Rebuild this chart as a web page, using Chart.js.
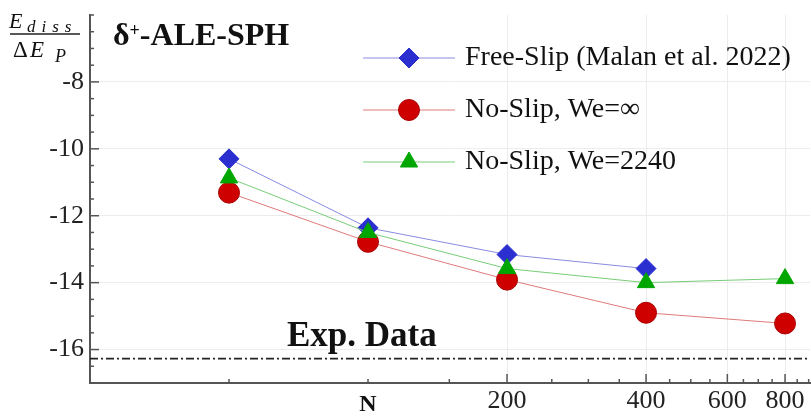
<!DOCTYPE html>
<html>
<head>
<meta charset="utf-8">
<script src="https://cdn.jsdelivr.net/npm/chart.js@4"></script>
<style>
  html, body { margin: 0; padding: 0; background: #fff; }
</style>
</head>
<body>
<canvas id="myChart" width="811" height="417"></canvas>
<script>
// particle counts and dissipated energy ratio per run
const nValues = [50, 100, 200, 400, 800];
const freeSlip = [-10.3, -12.36, -13.16, -13.58];
const noSlipInf = [-11.31, -12.78, -13.91, -14.9, -15.22];
const noSlip2240 = [-10.87, -12.5, -13.58, -14.0, -13.88];
const expData = -16.27;

const seriesNames = ['Free-Slip (Malan et al. 2022)', 'No-Slip, We=\u221E', 'No-Slip, We=2240'];
const xTickLabels = [200, 400, 600, 800];
const yTickLabels = [-8, -10, -12, -14, -16];
const xMin = 25, xMax = 906;
const yMin = -17, yMax = -6;

const serif = "'Liberation Serif', 'Times New Roman', serif";

const toPoints = (ys) => ys.map((y, i) => ({ x: nValues[i], y: y }));

const data = {
  datasets: [
    {
      label: seriesNames[0],
      data: toPoints(freeSlip),
      borderColor: '#8a8ae0',
      backgroundColor: '#2b2fd0',
      pointBorderColor: '#2b2fd0',
      pointStyle: 'rectRot',
      pointRadius: 10,
      borderWidth: 1,
      order: 3,
    },
    {
      label: seriesNames[1],
      data: toPoints(noSlipInf),
      borderColor: '#e07a7a',
      backgroundColor: '#cf0000',
      pointBorderColor: '#a80000',
      pointStyle: 'circle',
      pointRadius: 10.5,
      borderWidth: 1,
      order: 2,
    },
    {
      label: seriesNames[2],
      data: toPoints(noSlip2240),
      borderColor: '#78cc78',
      backgroundColor: '#00a600',
      pointBorderColor: '#00a600',
      pointStyle: 'triangle',
      pointRadius: 10,
      borderWidth: 1,
      order: 1,
    },
    {
      label: 'Exp. Data',
      data: [{ x: xMin, y: expData }, { x: xMax, y: expData }],
      borderColor: '#222',
      borderWidth: 1.8,
      borderDash: [8, 3, 2, 3],
      pointRadius: 0,
      order: 4,
    },
  ],
};

// inward tick marks, legend and the text annotations
const decorations = {
  id: 'decorations',
  afterDraw(chart) {
    const { ctx, chartArea, scales } = chart;
    const x = scales.x, y = scales.y;
    ctx.save();

    const seg = (x1, y1, x2, y2) => {
      ctx.beginPath();
      ctx.moveTo(x1, y1);
      ctx.lineTo(x2, y2);
      ctx.stroke();
    };

    ctx.strokeStyle = '#555';
    ctx.lineWidth = 1.5;
    y.ticks.forEach((t) => {
      const py = y.getPixelForValue(t.value);
      seg(chartArea.left, py, chartArea.left + (yTickLabels.includes(t.value) ? 9 : 4), py);
    });
    x.ticks.forEach((t) => {
      const px = x.getPixelForValue(t.value);
      seg(px, chartArea.bottom, px, chartArea.bottom - (xTickLabels.includes(t.value) ? 9 : 4));
    });

    // legend rows
    const rows = [58, 110, 162];
    for (let i = 0; i < 3; i++) {
      const ds = chart.data.datasets[i];
      const ry = rows[i];
      ctx.strokeStyle = ds.borderColor;
      ctx.lineWidth = 1;
      seg(363, ry, 455, ry);
      ctx.fillStyle = ds.backgroundColor;
      ctx.strokeStyle = ds.pointBorderColor;
      Chart.helpers.drawPoint(ctx, { pointStyle: ds.pointStyle, radius: ds.pointRadius, rotation: 0, borderWidth: 1 }, 409, ry);
      ctx.fillStyle = '#111';
      ctx.font = '28px ' + serif;
      ctx.textBaseline = 'alphabetic';
      ctx.textAlign = 'left';
      ctx.fillText(ds.label, 465, ry + 7);
    }

    // title
    ctx.fillStyle = '#111';
    ctx.font = 'bold 32px ' + serif;
    ctx.fillText('\u03B4', 113, 45);
    let tx = 113 + ctx.measureText('\u03B4').width;
    ctx.font = 'bold 18px ' + serif;
    ctx.fillText('+', tx, 36);
    tx += ctx.measureText('+').width;
    ctx.font = 'bold 32px ' + serif;
    ctx.fillText('-ALE-SPH', tx, 45);

    // Exp. Data label
    ctx.font = 'bold 35px ' + serif;
    ctx.fillText('Exp. Data', 287, 346);

    // N label under the axis
    ctx.font = 'bold 24px ' + serif;
    ctx.textAlign = 'center';
    ctx.fillText('N', x.getPixelForValue(100), 411);

    // y axis quantity as a fraction
    ctx.textAlign = 'left';
    ctx.font = 'italic 22px ' + serif;
    ctx.fillText('E', 9, 28);
    ctx.font = 'italic 17px ' + serif;
    let sx = 27;
    for (const ch of 'diss') {
      ctx.fillText(ch, sx, 32);
      sx += ctx.measureText(ch).width + 6;
    }
    ctx.strokeStyle = '#222';
    ctx.lineWidth = 1.4;
    seg(10, 34, 80, 34);
    ctx.font = '23px ' + serif;
    ctx.fillText('\u0394', 13, 57);
    ctx.font = 'italic 23px ' + serif;
    ctx.fillText('E', 30, 57);
    ctx.font = 'italic 18px ' + serif;
    ctx.fillText('P', 55, 62);

    ctx.restore();
  },
};

const config = {
  type: 'line',
  data: data,
  options: {
    responsive: false,
    animation: false,
    layout: { autoPadding: false, padding: { top: 15, right: 1, left: 0, bottom: 0 } },
    plugins: {
      legend: { display: false },
      tooltip: { enabled: false },
    },
    scales: {
      x: {
        type: 'logarithmic',
        min: xMin,
        max: xMax,
        afterBuildTicks: (scale) => {
          const t = [{ value: 50 }];
          for (let v = 100; v <= 900; v += 50) t.push({ value: v });
          scale.ticks = t;
        },
        afterFit: (scale) => {
          scale.height = 34;
          scale.paddingLeft = 0;
          scale.paddingRight = 0;
        },
        grid: {
          drawTicks: false,
          color: (c) => (c.tick && xTickLabels.includes(c.tick.value) ? '#ececec' : 'rgba(0,0,0,0)'),
        },
        border: { display: true, color: '#555', width: 2 },
        ticks: {
          autoSkip: false,
          maxRotation: 0,
          padding: 3,
          color: '#222',
          font: { family: serif, size: 26 },
          callback: (v) => (xTickLabels.includes(v) ? String(v) : ''),
        },
      },
      y: {
        min: yMin,
        max: yMax,
        afterBuildTicks: (scale) => {
          const t = [];
          for (let v = yMin; v <= yMax; v += 0.5) t.push({ value: v });
          scale.ticks = t;
        },
        afterFit: (scale) => {
          scale.width = 90;
          scale.paddingTop = 0;
          scale.paddingBottom = 0;
        },
        grid: {
          drawTicks: false,
          color: (c) => (c.tick && yTickLabels.includes(c.tick.value) ? '#ececec' : 'rgba(0,0,0,0)'),
        },
        border: { display: true, color: '#555', width: 2 },
        ticks: {
          autoSkip: false,
          padding: 6,
          color: '#222',
          font: { family: serif, size: 26 },
          callback: (v) => (yTickLabels.includes(v) ? String(v) : ''),
        },
      },
    },
  },
  plugins: [decorations],
};

const myChart = new Chart(document.getElementById('myChart'), config);
</script>
</body>
</html>
